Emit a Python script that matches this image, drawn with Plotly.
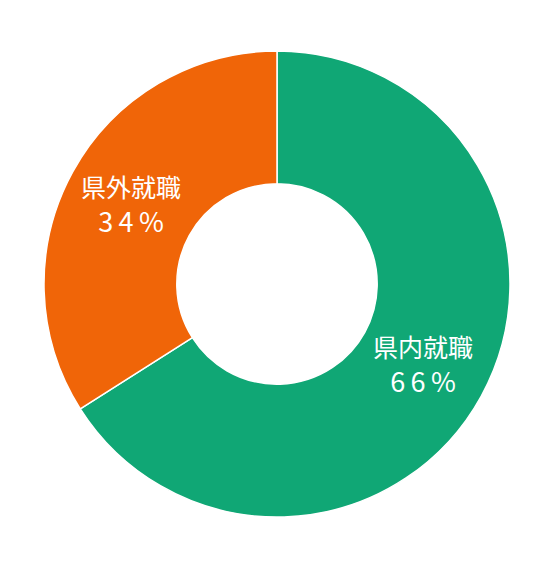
import plotly.graph_objects as go

labels = ["県内就職", "県外就職"]
values = [66, 34]
colors = ["#10a775", "#f06508"]

# spread the digits a little, like the original's lettering
pct_text = ["\u2009".join(f"{v}%") for v in values]

fig = go.Figure(go.Pie(
    labels=labels,
    values=values,
    text=pct_text,
    hole=0.43,
    sort=False,
    direction="clockwise",
    rotation=0,
    marker=dict(colors=colors, line=dict(color="white", width=1.5)),
    texttemplate="<span style='font-size:25px'>%{label}</span><br>%{text}",
    textposition="inside",
    insidetextorientation="horizontal",
    textfont=dict(family="Noto Sans CJK JP", size=27, color="white"),
    showlegend=False,
))

fig.update_layout(
    width=557, height=569,
    margin=dict(l=36, r=55, t=43, b=60),
    paper_bgcolor="white",
)

fig.write_html("out.html")
